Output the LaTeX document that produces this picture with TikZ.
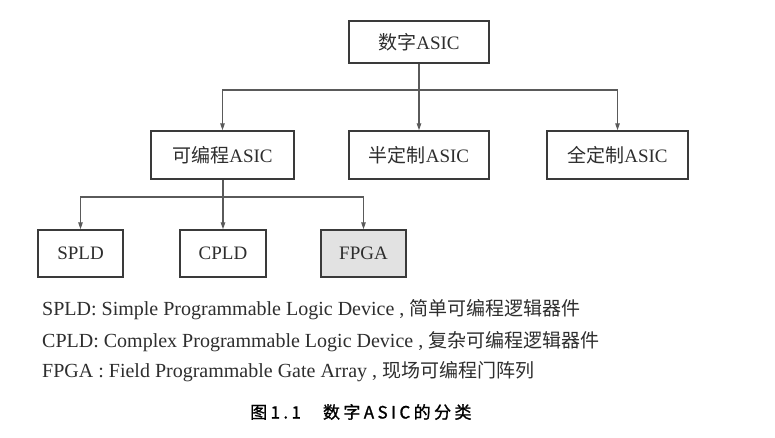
\documentclass[tikz,border=0pt]{standalone}
\usepackage{fontspec}
\setmainfont{Liberation Serif}
\newfontfamily\cjk{Noto Sans CJK SC}
\newfontfamily\capfont[FakeBold=1.2,LetterSpace=20]{Noto Sans CJK SC}
\usetikzlibrary{arrows.meta}
\definecolor{boxline}{HTML}{3A3A3A}
\definecolor{conn}{HTML}{5A5A5A}
\definecolor{txt}{HTML}{2E2E2E}
\definecolor{fpgafill}{HTML}{E2E2E2}
\newcommand{\legcjk}[1]{{\fontsize{19}{22}\selectfont\cjk #1}}
\tikzset{
  box/.style={draw=boxline, line width=1.5pt, fill=white, inner sep=0pt,
    text=txt, font=\fontsize{19}{22}\selectfont},
  conline/.style={draw=conn, line width=1.2pt},
  arr/.style={conline, -{Stealth[length=7pt,width=4.5pt,inset=0pt]}},
  legend/.style={anchor=west, inner sep=0pt, text=txt, font=\fontsize{20}{22}\selectfont},
}
\begin{document}
\begin{tikzpicture}[x=1pt,y=-1pt]
\useasboundingbox (0,0) rectangle (775,437);
\fill[white] (0,0) rectangle (775,437);
% boxes
\node[box, minimum width=140pt, minimum height=42pt] (top) at (419,42) {{\cjk 数字}ASIC};
\node[box, minimum width=143pt, minimum height=48pt] (prog) at (222.5,155) {{\cjk 可编程}ASIC};
\node[box, minimum width=140pt, minimum height=48pt] (semi) at (419,155) {{\cjk 半定制}ASIC};
\node[box, minimum width=141pt, minimum height=48pt] (full) at (617.5,155) {{\cjk 全定制}ASIC};
\node[box, minimum width=85pt, minimum height=47pt] (spld) at (80.5,253.5) {SPLD};
\node[box, minimum width=86pt, minimum height=47pt] (cpld) at (223,253.5) {CPLD};
\node[box, fill=fpgafill, minimum width=85pt, minimum height=47pt] (fpga) at (363.5,253.5) {FPGA};
% junctions
\coordinate (j1) at (419,90);
\coordinate (j2) at (223,197);
% connectors
\draw[conline] (top.south) -- (j1);
\draw[arr] (j1) -| (prog.north);
\draw[arr] (j1) -- (semi.north);
\draw[arr] (j1) -| (full.north);
\draw[conline] (prog.south -| j2) -- (j2);
\draw[arr] (j2) -| (spld.north);
\draw[arr] (j2) -- (cpld.north);
\draw[arr] (j2) -| (fpga.north);
% legend
\node[legend] (l1) at (42,310) {SPLD: Simple Programmable Logic Device , \legcjk{简单可编程逻辑器件}};
\node[legend] (l2) at (42,342) {CPLD: Complex Programmable Logic Device , \legcjk{复杂可编程逻辑器件}};
\node[legend] (l3) at (42,372) {FPGA : Field Programmable Gate Array , \legcjk{现场可编程门阵列}};
% caption
\node[anchor=west, inner sep=0pt, text=black, font=\fontsize{17}{20}\selectfont\capfont] (cap) at (250,412) {图1.1\hspace{22pt}数字ASIC的分类};
\end{tikzpicture}
\end{document}
